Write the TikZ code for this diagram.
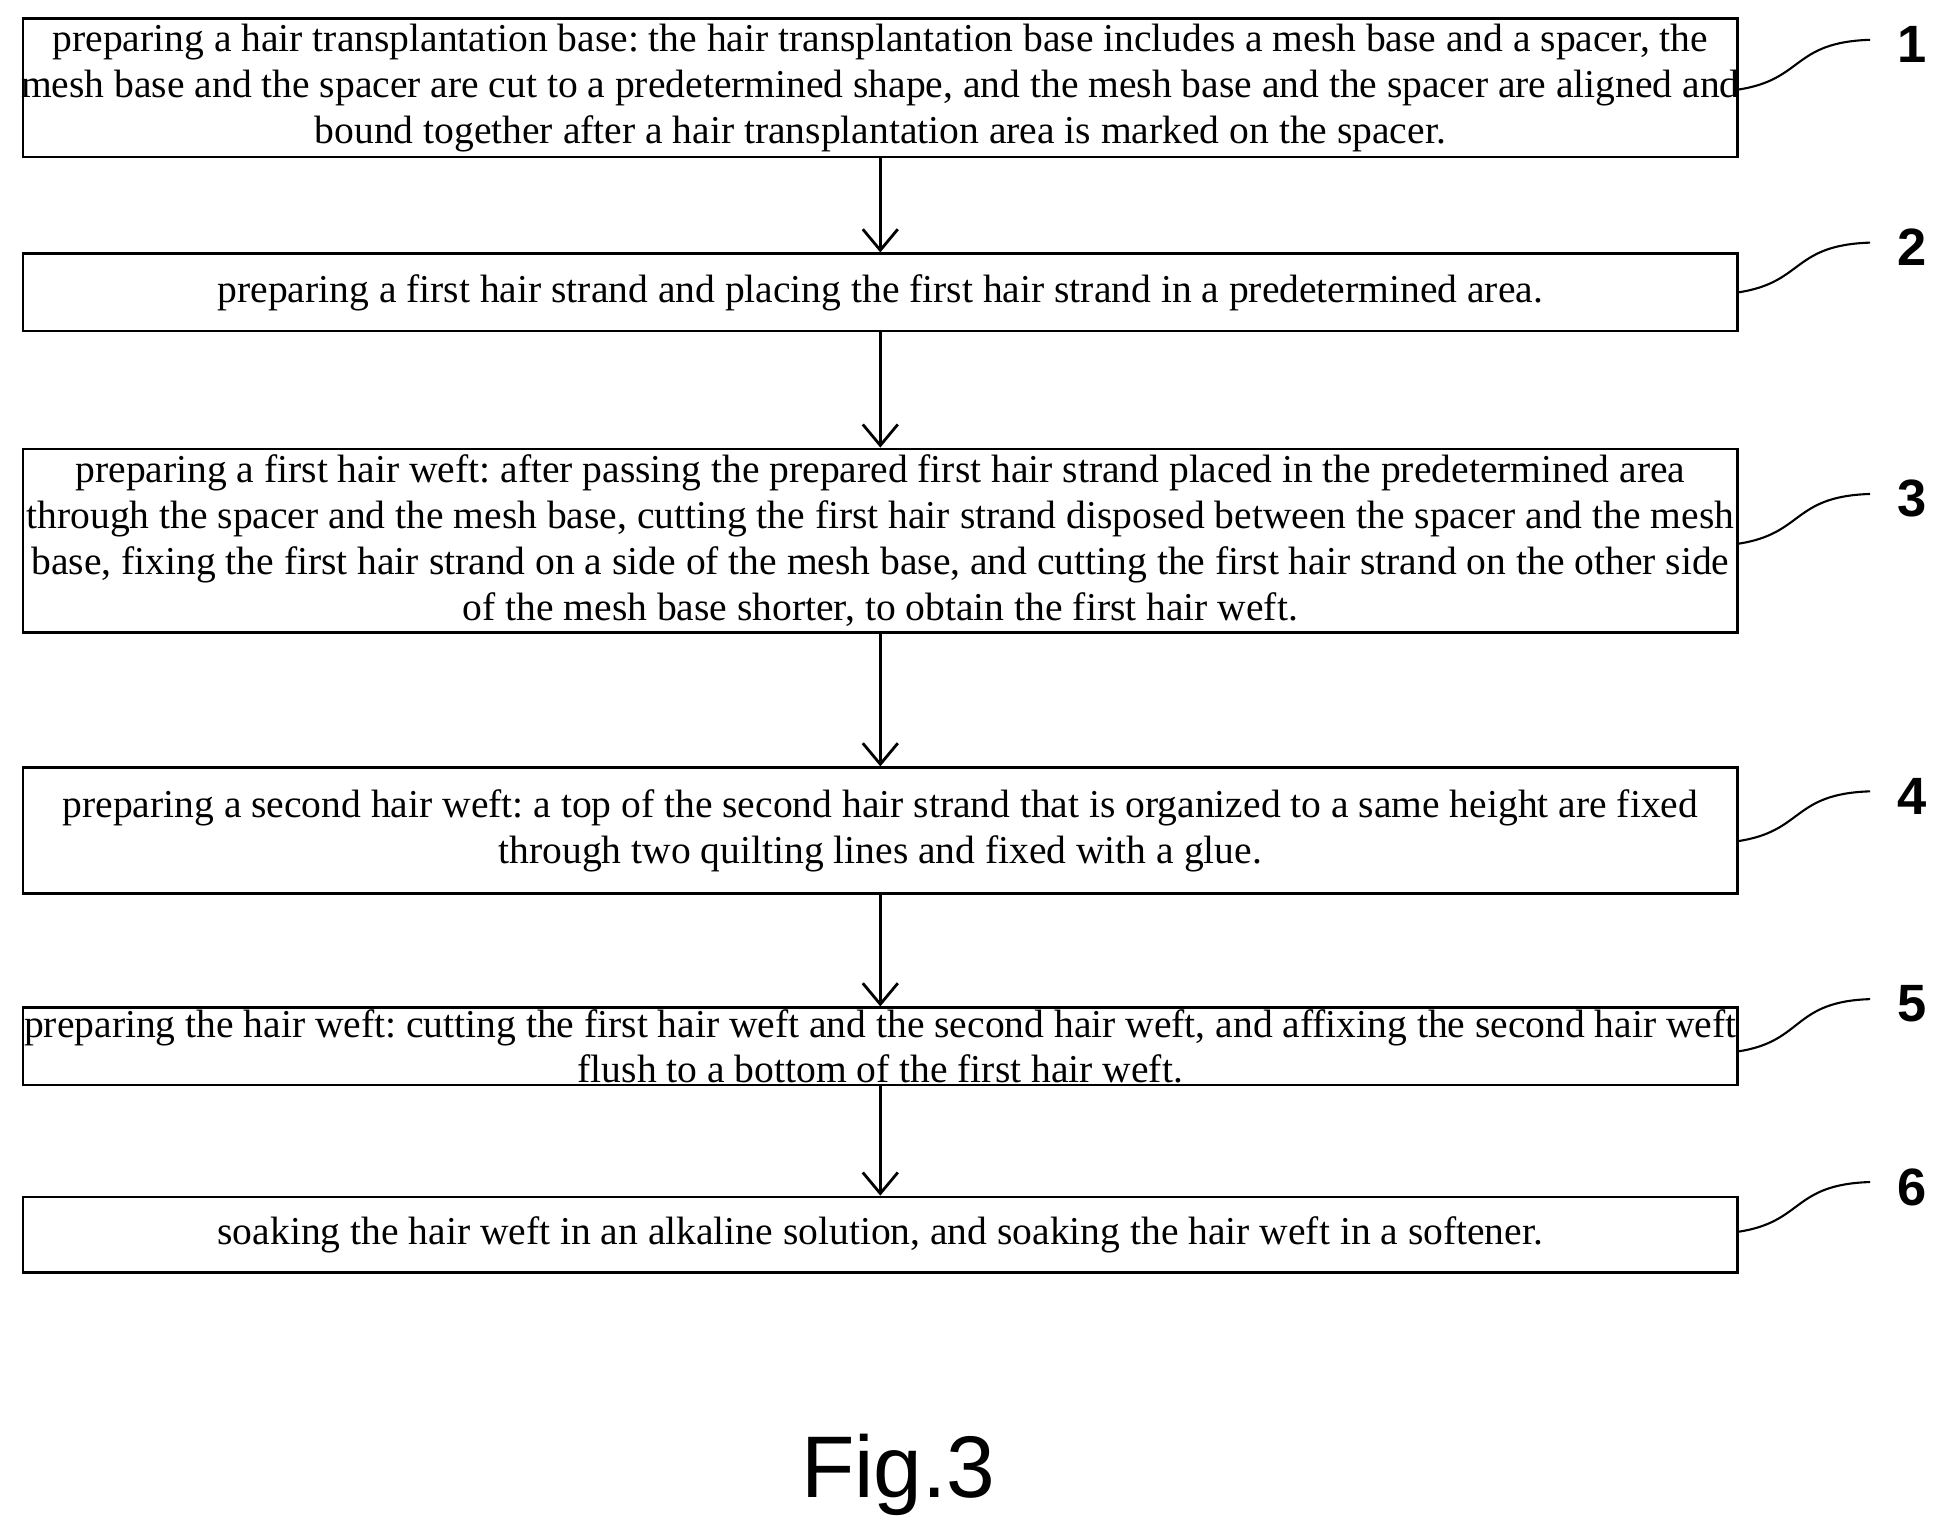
\documentclass[tikz,border=0pt]{standalone}
\usepackage{fontspec}
\usetikzlibrary{arrows.meta}
\setmainfont{Liberation Serif}
\newfontfamily\lsans{Liberation Sans}
\frenchspacing
\begin{document}
\begin{tikzpicture}[x=0.0125cm,y=-0.0125cm,
 box/.style={draw,line width=0.8pt,minimum width=17.22cm,inner sep=0,anchor=center},
 txt/.style={align=center,inner sep=0,font=\fontsize{11.3}{13.1}\selectfont},
 arr/.style={-{Straight Barb[length=6pt,width=10pt]},line width=0.8pt},
 num/.style={font=\lsans\bfseries\fontsize{15}{15}\selectfont},
 sq/.style={line width=0.6pt}]
\useasboundingbox (0,0) rectangle (1560,1232);
\node[box,minimum height=1.39cm] (b1) at (707.5,70.5) {};
\node[box,minimum height=0.775cm] (b2) at (707.5,235) {};
\node[box,minimum height=1.84cm] (b3) at (707.5,434.5) {};
\node[box,minimum height=1.26cm] (b4) at (707.5,667.5) {};
\node[box,minimum height=0.775cm] (b5) at (707.5,841) {};
\node[box,minimum height=0.76cm] (b6) at (707.5,992.5) {};
\node[txt] (t1) at (b1) {preparing a hair transplantation base: the hair transplantation base includes a mesh base and a spacer, the\\ mesh base and the spacer are cut to a predetermined shape, and the mesh base and the spacer are aligned and\\ bound together after a hair transplantation area is marked on the spacer.};
\node[txt] (t2) at (b2) {preparing a first hair strand and placing the first hair strand in a predetermined area.};
\node[txt] (t3) at (b3) {preparing a first hair weft: after passing the prepared first hair strand placed in the predetermined area\\ through the spacer and the mesh base, cutting the first hair strand disposed between the spacer and the mesh\\ base, fixing the first hair strand on a side of the mesh base, and cutting the first hair strand on the other side\\ of the mesh base shorter, to obtain the first hair weft.};
\node[txt] (t4) at (b4) {preparing a second hair weft: a top of the second hair strand that is organized to a same height are fixed\\ through two quilting lines and fixed with a glue.};
\node[txt] (t5) at (b5) {preparing the hair weft: cutting the first hair weft and the second hair weft, and affixing the second hair weft\\ flush to a bottom of the first hair weft.};
\node[txt] (t6) at (b6) {soaking the hair weft in an alkaline solution, and soaking the hair weft in a softener.};
\draw[arr] (b1.south) -- (b2.north);
\draw[arr] (b2.south) -- (b3.north);
\draw[arr] (b3.south) -- (b4.north);
\draw[arr] (b4.south) -- (b5.north);
\draw[arr] (b5.south) -- (b6.north);
\foreach \n/\a/\b in {1/72/32,2/235/195,3/437/397,4/676/636,5/845/803,6/990/950}{
 \coordinate (s\n) at (1397,\a);
 \coordinate (e\n) at (1503,\b);
 \draw[sq] (s\n) .. controls (1450,\a-8) and (1440,\b+2) .. (e\n);
 \node[num] (n\n) at (1537,\b+4) {\n};
}
\node[font=\lsans\fontsize{25}{25}\selectfont] (fig) at (722,1185) {Fig.3};
\end{tikzpicture}
\end{document}
